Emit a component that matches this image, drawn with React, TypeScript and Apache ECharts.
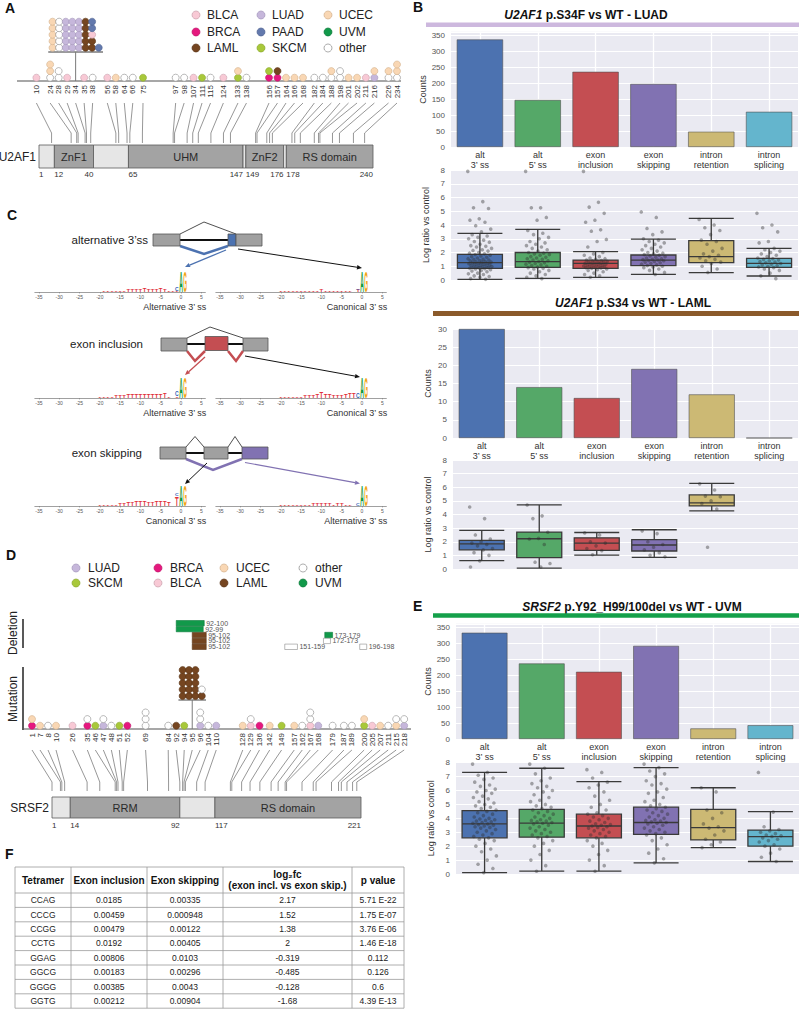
import React, { useEffect, useRef } from "react";
import * as echarts from "echarts";

const FONT = "'Liberation Sans', Arial, Helvetica, sans-serif";

/* ===================== DATA ===================== */
// Panel A – U2AF1
const u2af1Length = 240;
const u2af1Domains: [number, number, string][] = [
  [1, 12, ""], [12, 40, "ZnF1"], [40, 65, ""], [65, 147, "UHM"],
  [147, 149, ""], [149, 176, "ZnF2"], [176, 178, ""], [178, 240, "RS domain"],
];
const u2af1Residues = [10, 24, 28, 29, 34, 35, 38, 56, 58, 64, 66, 75, 97, 98, 107, 111, 115, 124, 133, 138, 156, 157, 164, 166, 168, 182, 184, 188, 198, 201, 202, 211, 216, 226, 234];
const u2af1Stacks: string[][] = [
  ["BLCA"], ["other", "UCEC", "UCEC"], ["other", "other"], ["BLCA"], [], ["BLCA"], ["other"],
  ["BLCA"], ["UCEC"], ["other"], ["other"], ["SKCM"],
  ["other"], ["other"], ["BLCA"], ["SKCM"], ["other"], ["BLCA"],
  ["SKCM", "UCEC"], ["other"],
  ["BRCA", "SKCM"], ["BRCA", "LAML"],
  ["UCEC"], ["UCEC"], ["UCEC"], ["other"], ["other"], ["other", "UCEC"], ["other", "other"], ["UCEC"], ["UCEC"], ["BLCA"], ["LUAD", "UCEC"], ["other", "UCEC"], ["other", "UCEC", "UCEC"],
];
const u2af1Hotspot = 34;
const u2af1HotspotCases: [string, number][] = [["UCEC", 5], ["other", 5], ["LUAD", 15], ["LAML", 7], ["BLCA", 1], ["PAAD", 3]];

// Panel D – SRSF2
const srsf2Length = 221;
const srsf2Domains: [number, number, string][] = [[1, 14, ""], [14, 92, "RRM"], [92, 117, ""], [117, 221, "RS domain"]];
const srsf2Residues = [1, 7, 8, 10, 26, 35, 46, 47, 48, 51, 52, 69, 84, 92, 94, 95, 96, 104, 110, 128, 129, 136, 142, 149, 157, 162, 167, 168, 179, 187, 189, 200, 205, 207, 211, 215, 218];
const srsf2Stacks: string[][] = [
  ["BRCA", "UCEC"], ["UCEC"], ["other"], ["UCEC"], ["BLCA"], ["BRCA", "other"], ["SKCM"], ["LUAD", "other"], ["other"], ["SKCM"], ["BRCA"],
  ["other", "other", "other"], ["other"], ["LAML"], ["SKCM"], [], ["LUAD", "other", "other"], ["other"], ["LUAD"],
  ["UCEC"], ["BLCA", "other"], ["BRCA"], ["UCEC"], ["SKCM"], ["UCEC"], ["other"], ["BLCA", "other", "other"], ["LUAD"],
  ["other"], ["other"], ["other"], ["SKCM", "UCEC"], ["BLCA"], ["UCEC"], ["other"], ["UCEC", "other"], ["LUAD", "other"],
];
const srsf2Hotspot = 95;
const srsf2HotspotCases: [string, number][] = [["LAML", 16], ["other", 1]];
const srsf2Deletions: [number, number, string][] = [
  [95, 102, "LAML"], [95, 102, "LAML"], [95, 102, "LAML"], [151, 159, "other"], [172, 173, "other"],
  [173, 179, "UVM"], [92, 99, "UVM"], [92, 100, "UVM"], [196, 198, "other"],
];

// Panels B / E – splicing events
const spliceEvents = ["alt\n3\u2019 ss", "alt\n5\u2019 ss", "exon\ninclusion", "exon\nskipping", "intron\nretention", "intron\nsplicing"];
const luadCounts = [336, 147, 235, 197, 48, 110];
const lamlCounts = [30, 14, 11, 19, 12, 0];
const uvmCounts = [332, 236, 210, 291, 33, 43];

const luadBoxes = [[0.05, 0.85, 1.26, 1.87, 3.39], [0.12, 0.92, 1.33, 2.0, 3.68], [0.19, 0.85, 1.21, 1.45, 2.06], [0.41, 1.04, 1.45, 1.82, 2.98], [0.53, 1.26, 1.7, 2.86, 4.48], [0.29, 0.92, 1.21, 1.58, 2.3]];
const lamlBoxes = [[0.61, 1.41, 1.85, 2.1, 2.83], [0.07, 0.83, 2.22, 2.71, 4.7], [1.02, 1.37, 1.9, 2.29, 2.68], [0.85, 1.32, 1.76, 2.15, 2.88], [4.27, 4.63, 4.85, 5.44, 6.29]];
const uvmBoxes = [[0.1, 2.6, 3.6, 4.55, 7.3], [0.2, 2.65, 3.65, 4.65, 7.6], [0.2, 2.6, 3.45, 4.3, 6.64], [0.8, 2.85, 3.7, 4.8, 7.65], [1.9, 2.45, 3.33, 4.65, 6.2], [0.9, 2.0, 2.68, 3.16, 4.48]];

const luadPoints: number[][] = [
  [7.9, 5.7, 5.25, 5.2, 4.45, 4.35, 4.2, 3.95, 3.7, 3.5, 3.3, 3.2, 3.1, 3.0, 2.9, 2.8, 2.75, 2.6, 2.5, 2.45, 2.4, 2.3, 2.2, 2.15, 2.1, 2.0, 1.95, 1.9, 1.85, 1.8, 1.75, 1.7, 1.65, 1.6, 1.55, 1.5, 1.48, 1.45, 1.42, 1.4, 1.35, 1.32, 1.3, 1.28, 1.25, 1.22, 1.2, 1.18, 1.15, 1.12, 1.1, 1.08, 1.05, 1.02, 1.0, 0.98, 0.95, 0.92, 0.9, 0.88, 0.85, 0.82, 0.8, 0.75, 0.7, 0.65, 0.6, 0.5, 0.45, 0.4, 0.3, 0.25, 0.2, 0.1, 0.05],
  [7.9, 5.25, 5.25, 4.55, 4.35, 3.6, 3.4, 3.3, 3.1, 3.0, 2.8, 2.7, 2.6, 2.5, 2.4, 2.3, 2.2, 2.1, 2.0, 1.95, 1.9, 1.85, 1.8, 1.7, 1.65, 1.6, 1.55, 1.5, 1.45, 1.4, 1.35, 1.3, 1.25, 1.2, 1.15, 1.1, 1.05, 1.0, 0.95, 0.9, 0.85, 0.8, 0.7, 0.6, 0.5, 0.4, 0.3, 0.2, 0.1],
  [7.9, 5.65, 5.3, 4.85, 4.35, 4.2, 3.65, 3.55, 2.95, 2.8, 2.4, 2.0, 1.9, 1.8, 1.7, 1.6, 1.55, 1.5, 1.45, 1.42, 1.4, 1.35, 1.32, 1.3, 1.28, 1.25, 1.22, 1.2, 1.18, 1.15, 1.12, 1.1, 1.08, 1.05, 1.02, 1.0, 0.98, 0.95, 0.92, 0.9, 0.88, 0.85, 0.8, 0.75, 0.7, 0.6, 0.5, 0.4, 0.3, 0.2],
  [4.95, 4.55, 3.75, 3.5, 3.3, 3.0, 2.9, 2.8, 2.7, 2.6, 2.5, 2.4, 2.3, 2.2, 2.1, 2.0, 1.95, 1.9, 1.85, 1.8, 1.75, 1.7, 1.65, 1.6, 1.55, 1.5, 1.48, 1.45, 1.42, 1.4, 1.35, 1.3, 1.25, 1.2, 1.15, 1.1, 1.05, 1.0, 0.95, 0.9, 0.8, 0.7, 0.55, 0.4],
  [4.4, 4.0, 3.8, 3.6, 3.3, 2.9, 2.8, 2.6, 2.3, 2.1, 1.9, 1.8, 1.7, 1.6, 1.5, 1.4, 1.3, 1.2, 1.0, 0.8, 0.55],
  [4.85, 4.0, 3.8, 3.5, 2.8, 2.7, 2.3, 2.2, 2.1, 2.0, 1.9, 1.8, 1.7, 1.6, 1.55, 1.5, 1.45, 1.4, 1.35, 1.3, 1.25, 1.2, 1.15, 1.1, 1.05, 1.0, 0.95, 0.9, 0.8, 0.7, 0.5, 0.3, 0.1],
];
const lamlPoints: number[][] = [
  [4.55, 3.7, 2.5, 2.2, 2.0, 1.9, 1.8, 1.7, 1.5, 1.4, 1.2, 1.0, 0.6, 0.15],
  [4.7, 3.9, 3.7, 2.7, 2.25, 2.2, 1.8, 0.5, 0.4, 0.15],
  [2.65, 2.5, 2.0, 1.9, 1.7, 1.5, 1.35, 1.05],
  [2.8, 2.6, 2.0, 1.8, 1.6, 1.4, 1.2, 1.0, 0.9],
  [6.25, 5.8, 5.35, 5.3, 5.0, 4.8, 4.4, 1.6],
  [],
];
const uvmPoints: number[][] = [
  [7.9, 7.3, 7.1, 6.9, 6.8, 6.6, 6.4, 6.3, 6.1, 6.0, 5.9, 5.8, 5.6, 5.5, 5.4, 5.2, 5.1, 5.0, 4.9, 4.8, 4.7, 4.6, 4.5, 4.4, 4.3, 4.2, 4.1, 4.0, 3.95, 3.9, 3.85, 3.8, 3.75, 3.7, 3.65, 3.6, 3.55, 3.5, 3.45, 3.4, 3.35, 3.3, 3.2, 3.1, 3.0, 2.9, 2.8, 2.7, 2.6, 2.5, 2.4, 2.2, 2.0, 1.8, 1.6, 1.3, 1.0, 0.7, 0.4, 0.1],
  [7.9, 7.6, 7.2, 6.9, 6.7, 6.5, 6.3, 6.2, 6.0, 5.9, 5.7, 5.5, 5.3, 5.2, 5.0, 4.9, 4.8, 4.7, 4.6, 4.5, 4.4, 4.3, 4.2, 4.1, 4.0, 3.9, 3.85, 3.8, 3.75, 3.7, 3.65, 3.6, 3.5, 3.4, 3.3, 3.2, 3.1, 3.0, 2.9, 2.8, 2.7, 2.6, 2.4, 2.2, 2.0, 1.7, 1.4, 1.0, 0.6, 0.2],
  [7.5, 7.3, 6.9, 6.6, 6.4, 6.2, 5.9, 5.6, 5.3, 5.0, 4.8, 4.6, 4.4, 4.3, 4.2, 4.1, 4.0, 3.9, 3.8, 3.7, 3.6, 3.55, 3.5, 3.45, 3.4, 3.35, 3.3, 3.2, 3.1, 3.0, 2.9, 2.8, 2.7, 2.6, 2.4, 2.2, 2.0, 1.7, 1.4, 1.0, 0.6, 0.2],
  [7.9, 7.65, 7.4, 7.2, 7.0, 6.7, 6.5, 6.4, 6.1, 5.9, 5.8, 5.5, 5.3, 5.2, 5.0, 4.9, 4.8, 4.7, 4.6, 4.5, 4.4, 4.3, 4.2, 4.1, 4.0, 3.9, 3.85, 3.8, 3.75, 3.7, 3.65, 3.6, 3.5, 3.4, 3.3, 3.2, 3.1, 3.0, 2.9, 2.8, 2.6, 2.4, 2.1, 1.8, 1.5, 1.1, 0.8],
  [6.2, 5.9, 4.6, 4.4, 4.0, 3.6, 3.4, 3.3, 3.1, 2.8, 2.5, 2.3, 2.1, 1.9],
  [7.3, 4.45, 3.4, 3.2, 3.1, 3.0, 2.9, 2.8, 2.75, 2.7, 2.6, 2.5, 2.4, 2.3, 2.1, 2.0, 1.8, 1.5, 1.2, 0.9],
];

// Panel C – sequence logos: [position, base, bits]
const logoTicks = [-35, -30, -25, -20, -15, -10, -5, 0, 5];
const logoAlt3Alternative: [number, string, number][] = [
  [-19, "T", 0.06], [-18, "T", 0.07], [-17, "T", 0.09], [-16, "T", 0.1], [-15, "T", 0.14], [-14, "T", 0.15], [-13, "T", 0.17], [-12, "T", 0.2],
  [-11, "T", 0.22], [-10, "T", 0.24], [-9, "T", 0.28], [-8, "T", 0.25], [-7, "T", 0.18], [-6, "T", 0.16], [-5, "T", 0.28], [-4, "T", 0.22],
  [-3, "T", 0.12], [-2, "T", 0.08], [-1, "T", 0.1], [-1, "C", 0.35], [0, "A", 1.75], [1, "G", 1.75],
];
const logoAlt3Canonical: [number, string, number][] = [
  [-20, "T", 0.05], [-19, "T", 0.06], [-18, "T", 0.07], [-17, "T", 0.08], [-16, "T", 0.1], [-15, "T", 0.11], [-14, "T", 0.12], [-13, "T", 0.13],
  [-12, "T", 0.14], [-11, "T", 0.15], [-10, "T", 0.16], [-9, "T", 0.15], [-8, "T", 0.14], [-7, "T", 0.13], [-6, "T", 0.12], [-5, "T", 0.14],
  [-4, "T", 0.12], [-3, "T", 0.1], [-1, "T", 0.2], [-1, "C", 0.15], [0, "A", 1.8], [1, "G", 1.8],
];
const logoInclAlternative: [number, string, number][] = [
  [-20, "T", 0.06], [-19, "T", 0.08], [-18, "T", 0.1], [-17, "T", 0.14], [-16, "T", 0.18], [-15, "T", 0.22], [-14, "T", 0.26], [-13, "T", 0.28],
  [-12, "T", 0.3], [-11, "T", 0.3], [-10, "T", 0.32], [-9, "T", 0.3], [-8, "T", 0.3], [-7, "T", 0.28], [-6, "T", 0.3], [-5, "T", 0.32],
  [-4, "T", 0.45], [-3, "T", 0.15], [-1, "T", 0.15], [-1, "C", 0.4], [0, "A", 1.8], [1, "G", 1.8],
];
const logoInclCanonical: [number, string, number][] = [
  [-20, "T", 0.05], [-19, "T", 0.06], [-18, "T", 0.08], [-17, "T", 0.1], [-16, "T", 0.12], [-15, "T", 0.14], [-14, "T", 0.16], [-13, "T", 0.2],
  [-12, "T", 0.25], [-11, "T", 0.3], [-10, "T", 0.55], [-9, "T", 0.3], [-8, "T", 0.28], [-7, "T", 0.25], [-6, "T", 0.22], [-5, "T", 0.25],
  [-4, "T", 0.3], [-3, "T", 0.45], [-2, "T", 0.45], [-1, "C", 0.4], [0, "A", 1.8], [1, "G", 1.8],
];
const logoSkipCanonical: [number, string, number][] = [
  [-20, "T", 0.06], [-19, "T", 0.08], [-18, "T", 0.1], [-17, "T", 0.12], [-16, "T", 0.15], [-15, "T", 0.2], [-14, "T", 0.25], [-13, "T", 0.3],
  [-12, "T", 0.35], [-11, "T", 0.4], [-10, "T", 0.45], [-9, "T", 0.4], [-8, "T", 0.35], [-7, "T", 0.35], [-6, "T", 0.4], [-5, "T", 0.45],
  [-4, "T", 0.4], [-3, "T", 0.3], [-1, "T", 0.8], [-1, "C", 0.2], [0, "A", 1.8], [1, "G", 1.8],
];
const logoSkipAlternative: [number, string, number][] = [
  [-20, "T", 0.05], [-19, "T", 0.06], [-18, "T", 0.07], [-17, "T", 0.08], [-16, "T", 0.1], [-15, "T", 0.12], [-14, "T", 0.14], [-13, "T", 0.15],
  [-12, "T", 0.16], [-11, "T", 0.18], [-10, "T", 0.2], [-9, "T", 0.18], [-8, "T", 0.16], [-7, "T", 0.15], [-6, "T", 0.16], [-5, "T", 0.18],
  [-4, "T", 0.15], [-3, "T", 0.12], [-1, "C", 0.25], [0, "A", 1.8], [1, "G", 1.8],
];

// Panel F – tetramer table
const tableHeader = ["Tetramer", "Exon inclusion", "Exon skipping", "log\u2082fc\n(exon incl. vs exon skip.)", "p value"];
const tetramers = ["CCAG", "CCCG", "CCGG", "CCTG", "GGAG", "GGCG", "GGGG", "GGTG"];
const exonInclusion = ["0.0185", "0.00459", "0.00479", "0.0192", "0.00806", "0.00183", "0.00385", "0.00212"];
const exonSkipping = ["0.00335", "0.000948", "0.00122", "0.00405", "0.0103", "0.00296", "0.0043", "0.00904"];
const log2fc = ["2.17", "1.52", "1.38", "2", "-0.319", "-0.485", "-0.128", "-1.68"];
const pValues = ["5.71 E-22", "1.75 E-07", "3.76 E-06", "1.46 E-18", "0.112", "0.126", "0.6", "4.39 E-13"];

/* ===================== STYLE ===================== */
const cancerColor: Record<string, string> = {
  BLCA: "#f8c9d5", BRCA: "#e5187e", LAML: "#754520", LUAD: "#c6b7db", PAAD: "#6379ad",
  SKCM: "#a8c83a", UCEC: "#f9d7b4", UVM: "#11994a", other: "#ffffff",
};
const cancerStroke: Record<string, string> = {
  BLCA: "#c9a0ac", BRCA: "#c0156a", LAML: "#5a3518", LUAD: "#a497bb", PAAD: "#4f6392",
  SKCM: "#8aa82c", UCEC: "#d2b08c", UVM: "#0c7a3a", other: "#8a8a8a",
};
const eventColors = ["#4c72b0", "#55a868", "#c44e52", "#8172b2", "#ccb974", "#64b5cd"];
const letterColor: Record<string, string> = { A: "#169a3f", C: "#2f5fb8", G: "#f2a516", T: "#e0303a" };
const glyphW: Record<string, number> = { A: 0.722, C: 0.722, G: 0.778, T: 0.611 };

const trackCfgA = {
  left: 0, top: 0, width: 405, height: 190, res1Px: 39, resNPx: 373, trackA: 20, trackB: 1.64, gap: 8.5, lo: 28, hi: 397,
  baseline: 81, baseX0: 17, baseX1: 401, c0: 3.3, step: 6.6, r: 3.5, labelTop: 85, connTop: 103, connMid: 133, connBot: 143,
  barTop: 145, barBottom: 168, numY: 174.5, hotBottom: 47.7, hotUnder: 52, hotRows: 5, hotRow: 6.5, hotCol: 6.6,
};
const trackCfgD = {
  left: 0, top: 530, width: 420, height: 310, res1Px: 52, resNPx: 361, trackA: 28.3, trackB: 1.7, gap: 8, lo: 32, hi: 408,
  baseline: 729, baseX0: 24, baseX1: 411, c0: 3.3, step: 6.6, r: 3.5, labelTop: 733, connTop: 750, connMid: 782, connBot: 791,
  barTop: 797, barBottom: 818, numY: 825, hotBottom: 696, hotUnder: 700, hotRows: 5, hotRow: 6.5, hotCol: 6.4,
  delBottom: 649.5, delLane: 5.9, delBox: 5.4, delMinW: 7,
};

/* ===================== HELPERS ===================== */
function spread(ideal: number[], gap: number, lo: number, hi: number): number[] {
  const cl: any[] = [];
  const place = (c: any) => { c.start = Math.min(Math.max(c.sum / c.n, lo), hi - (c.n - 1) * gap); };
  ideal.forEach((v) => {
    const c: any = { n: 1, sum: v, start: v };
    place(c);
    cl.push(c);
    while (cl.length > 1) {
      const b = cl[cl.length - 1], a = cl[cl.length - 2];
      if (a.start + a.n * gap <= b.start + 1e-9) break;
      a.sum += b.sum - b.n * a.n * gap;
      a.n += b.n;
      place(a);
      cl.pop();
    }
  });
  const out: number[] = [];
  cl.forEach((c) => { for (let k = 0; k < c.n; k++) out.push(c.start + k * gap); });
  return out;
}

function txt(x: number, y: number, text: string, size: number, extra: any = {}, styleExtra: any = {}) {
  return {
    type: "text", x, y, ...extra,
    style: { text, fontSize: size, fontFamily: FONT, fill: "#222", align: "left", verticalAlign: "middle", ...styleExtra },
  };
}

function arrow(x1: number, y1: number, x2: number, y2: number, color: string, lw: number) {
  const ang = Math.atan2(y2 - y1, x2 - x1);
  const L = 5, W = 2.2;
  const bx = x2 - L * Math.cos(ang), by = y2 - L * Math.sin(ang);
  const px = -Math.sin(ang) * W, py = Math.cos(ang) * W;
  return [
    { type: "line", shape: { x1, y1, x2: bx, y2: by }, style: { stroke: color, lineWidth: lw } },
    { type: "polygon", shape: { points: [[x2, y2], [bx + px, by + py], [bx - px, by - py]] }, style: { fill: color } },
  ];
}

function addTrack(o: any, cfg: any, d: any) {
  const k = (cfg.resNPx - cfg.res1Px) / (d.length - 1);
  const min = 1 - (cfg.res1Px - cfg.left) / k;
  const max = min + cfg.width / k;
  const toU = (px: number) => min + (px - cfg.left) / k;
  const dispPx = spread(d.residues.map((r: number) => cfg.trackA + cfg.trackB * r), cfg.gap, cfg.lo, cfg.hi);

  const gi = o.grid.length;
  o.grid.push({ left: cfg.left, top: cfg.top, width: cfg.width, height: cfg.height, show: false, containLabel: false, outerBoundsMode: "none" });
  const xi = o.xAxis.length;
  o.xAxis.push({ gridIndex: gi, type: "value", min, max, show: false });
  const yi = o.yAxis.length;
  o.yAxis.push({ gridIndex: gi, type: "value", min: cfg.top, max: cfg.top + cfg.height, inverse: true, show: false });

  o.graphic.elements.push({ type: "line", shape: { x1: cfg.baseX0, y1: cfg.baseline, x2: cfg.baseX1, y2: cfg.baseline }, style: { stroke: "#8a8a8a", lineWidth: 1.3 }, z: 0 });

  o.series.push({
    type: "custom", xAxisIndex: xi, yAxisIndex: yi, silent: true, z: 2,
    data: d.domains.map((dm: any) => [dm[0], dm[1]]),
    renderItem: (params: any, api: any) => {
      const dm = d.domains[params.dataIndex];
      const x0 = api.coord([api.value(0), cfg.barTop])[0];
      const x1 = api.coord([api.value(1), cfg.barTop])[0];
      const yT = api.coord([min, cfg.barTop])[1], yB = api.coord([min, cfg.barBottom])[1];
      const yN = api.coord([min, cfg.numY])[1];
      const num = (v: number, x: number, align: string) => ({ type: "text", x, y: yN, style: { text: String(v), fontSize: 8, fontFamily: FONT, fill: "#333", align, verticalAlign: "middle" } });
      const ch: any[] = [{ type: "rect", shape: { x: x0, y: yT, width: x1 - x0, height: yB - yT }, style: { fill: dm[2] ? "#a3a3a3" : "#e6e6e6", stroke: "#5a5a5a", lineWidth: 0.8 } }];
      if (dm[2]) {
        ch.push({ type: "text", x: (x0 + x1) / 2, y: (yT + yB) / 2, style: { text: dm[2], fontSize: 11, fontFamily: FONT, fill: "#2a2a2a", align: "center", verticalAlign: "middle" } });
        ch.push(num(dm[0], x0, "left"), num(dm[1], x1, "right"));
      }
      if (params.dataIndex === 0) {
        ch.push(num(dm[0], x0, "left"));
        ch.push({ type: "text", x: x0 - 3, y: (yT + yB) / 2, style: { text: d.name, fontSize: 12, fontFamily: FONT, fill: "#222", align: "right", verticalAlign: "middle" } });
      }
      return { type: "group", children: ch };
    },
  });

  o.series.push({
    type: "custom", xAxisIndex: xi, yAxisIndex: yi, silent: true, z: 3,
    data: d.residues.map((r: number, i: number) => [r, toU(dispPx[i])]),
    renderItem: (params: any, api: any) => {
      const i = params.dataIndex;
      const xr = api.coord([api.value(0), cfg.baseline])[0];
      const xd = api.coord([api.value(1), cfg.baseline])[0];
      const Y = (v: number) => api.coord([min, v])[1];
      const yb = Y(cfg.baseline);
      const ch: any[] = [];
      ch.push({ type: "polyline", shape: { points: [[xd, Y(cfg.connTop)], [xr, Y(cfg.connMid)], [xr, Y(cfg.connBot)]] }, style: { stroke: "#6a6a6a", lineWidth: 0.7, fill: "none" } });
      ch.push({ type: "text", x: xd, y: Y(cfg.labelTop), rotation: Math.PI / 2, style: { text: String(d.residues[i]), fontSize: 8, fontFamily: FONT, fill: "#333", align: "right", verticalAlign: "middle" } });
      const circ = (cx: number, cy: number, t: string) => ({ type: "circle", shape: { cx, cy, r: cfg.r }, style: { fill: cancerColor[t], stroke: cancerStroke[t], lineWidth: 0.6 } });
      if (d.residues[i] === d.hotspot) {
        const cells: string[] = [];
        d.hotspotCases.forEach(([t, n]: [string, number]) => { for (let j = 0; j < n; j++) cells.push(t); });
        const ncol = Math.ceil(cells.length / cfg.hotRows);
        const yu = Y(cfg.hotUnder);
        const half = (ncol / 2) * cfg.hotCol + 1;
        ch.push({ type: "line", shape: { x1: xd, y1: yu, x2: xd, y2: yb }, style: { stroke: "#7a7a7a", lineWidth: 1 } });
        ch.push({ type: "line", shape: { x1: xd - half, y1: yu, x2: xd + half, y2: yu }, style: { stroke: "#7a7a7a", lineWidth: 1.4 } });
        cells.forEach((t, j) => {
          const c = Math.floor(j / cfg.hotRows), rr = j % cfg.hotRows;
          ch.push(circ(xd + (c - (ncol - 1) / 2) * cfg.hotCol, Y(cfg.hotBottom) - rr * cfg.hotRow, t));
        });
      }
      d.stacks[i].forEach((t: string, kk: number) => ch.push(circ(xd, yb - cfg.c0 - kk * cfg.step, t)));
      return { type: "group", children: ch };
    },
  });

  if (d.deletions) {
    const interp = (res: number) => {
      const rs = d.residues;
      if (res <= rs[0]) return dispPx[0] + (res - rs[0]) * cfg.trackB;
      for (let j = 0; j < rs.length - 1; j++) {
        if (res >= rs[j] && res <= rs[j + 1]) return dispPx[j] + (dispPx[j + 1] - dispPx[j]) * (res - rs[j]) / (rs[j + 1] - rs[j]);
      }
      return dispPx[rs.length - 1] + (res - rs[rs.length - 1]) * cfg.trackB;
    };
    const lanes: number[][][] = [];
    const delData = d.deletions.map((dl: [number, number, string]) => {
      const x0 = interp(dl[0]);
      const x1 = Math.max(interp(dl[1]), x0 + cfg.delMinW);
      const lw = `${dl[0]}-${dl[1]}`.length * 3.9 + 3;
      let L = 0;
      while (lanes[L] && lanes[L].some(([a, b]) => x0 < b && a < x1 + lw)) L++;
      (lanes[L] = lanes[L] || []).push([x0, x1 + lw]);
      return [toU(x0), toU(x1), L];
    });
    o.series.push({
      type: "custom", xAxisIndex: xi, yAxisIndex: yi, silent: true, z: 3,
      data: delData,
      renderItem: (params: any, api: any) => {
        const dl = d.deletions[params.dataIndex];
        const x0 = api.coord([api.value(0), cfg.delBottom])[0];
        const x1 = api.coord([api.value(1), cfg.delBottom])[0];
        const yB = api.coord([min, cfg.delBottom - api.value(2) * cfg.delLane])[1];
        const yT = yB - cfg.delBox;
        return {
          type: "group", children: [
            { type: "rect", shape: { x: x0, y: yT, width: x1 - x0, height: yB - yT }, style: { fill: cancerColor[dl[2]], stroke: dl[2] === "other" ? "#8a8a8a" : cancerStroke[dl[2]], lineWidth: 0.6 } },
            { type: "text", x: x1 + 2, y: (yT + yB) / 2, style: { text: `${dl[0]}-${dl[1]}`, fontSize: 7, fontFamily: FONT, fill: "#555", align: "left", verticalAlign: "middle" } },
          ],
        };
      },
    });
  }
}

function addBarPanel(o: any, p: any) {
  const gi = o.grid.length;
  o.grid.push({ left: p.left, top: p.top, width: p.width, height: p.height, show: true, backgroundColor: "#eaeaf2", borderWidth: 0, containLabel: false, outerBoundsMode: "none" });
  const xi = o.xAxis.length;
  o.xAxis.push({
    gridIndex: gi, type: "category", data: spliceEvents,
    axisLine: { show: false }, axisTick: { show: false },
    axisLabel: { show: !p.box, interval: 0, fontSize: 9, color: "#333", lineHeight: 10, margin: 3, fontFamily: FONT },
    splitLine: { show: false },
  });
  const yi = o.yAxis.length;
  o.yAxis.push({
    gridIndex: gi, type: "value", min: 0, max: p.max, interval: p.interval,
    name: p.name, nameLocation: "middle", nameGap: 21, nameTextStyle: { fontSize: 9, color: "#333", fontFamily: FONT },
    axisLine: { show: false }, axisTick: { show: false },
    axisLabel: { fontSize: 8, color: "#555", margin: 6, fontFamily: FONT, showMaxLabel: p.max % p.interval === 0 },
    splitLine: { show: true, lineStyle: { color: "#ffffff", width: 1.2 } },
  });
  if (!p.box) {
    // vertical white gridlines at the category centres, drawn beneath the bars
    o.series.push({
      type: "line", xAxisIndex: xi, yAxisIndex: yi, data: [], silent: true, z: 1, symbol: "none",
      markLine: { silent: true, z: 1, symbol: "none", label: { show: false }, lineStyle: { color: "#ffffff", width: 1.3, type: "solid" },
        data: spliceEvents.map((c) => ({ xAxis: c })) },
    });
    o.series.push({
      type: "bar", xAxisIndex: xi, yAxisIndex: yi, silent: true, barCategoryGap: "20%", z: 3,
      itemStyle: { borderColor: "#505050", borderWidth: 0.6 },
      data: p.values.map((v: number, i: number) => ({ value: v, itemStyle: { color: eventColors[i] } })),
    });
  } else {
    const jx = o.xAxis.length;
    o.xAxis.push({ gridIndex: gi, type: "value", min: -0.5, max: 5.5, show: false });
    o.series.push({
      type: "boxplot", xAxisIndex: xi, yAxisIndex: yi, silent: true, boxWidth: [45, 45],
      data: p.boxes.map((b: number[], i: number) => ({ value: b, itemStyle: { color: eventColors[i], borderColor: "#3a3a3a", borderWidth: 1.3 } })),
    });
    const pts: number[][] = [];
    p.points.forEach((vals: number[], c: number) => {
      vals.forEach((v, j) => pts.push([c + (((j * 0.6180339) % 1) - 0.5) * 0.42, v]));
    });
    o.series.push({
      type: "scatter", xAxisIndex: jx, yAxisIndex: yi, silent: true, z: 4, symbolSize: 3.6,
      itemStyle: { color: "rgba(45,45,45,0.5)" }, data: pts,
    });
  }
}

function addLogo(o: any, zeroPx: number, axisY: number, entries: [number, string, number][], label: string) {
  const ppu = 4.06;
  const gi = o.grid.length;
  o.grid.push({ left: zeroPx - 36 * ppu, top: axisY - 24, width: 42 * ppu, height: 24, show: false, containLabel: false, outerBoundsMode: "none" });
  const xi = o.xAxis.length;
  o.xAxis.push({
    gridIndex: gi, type: "value", min: -36, max: 6,
    axisLine: { show: true, onZero: false, lineStyle: { color: "#777", width: 0.7 } },
    axisTick: { show: true, length: 1.5, customValues: logoTicks, lineStyle: { color: "#777", width: 0.5 } },
    axisLabel: { show: true, fontSize: 5, color: "#555", margin: 2, customValues: logoTicks, fontFamily: FONT },
    splitLine: { show: false },
  });
  const yi = o.yAxis.length;
  o.yAxis.push({ gridIndex: gi, type: "value", min: 0, max: 2, show: false });
  const base: Record<number, number> = {};
  const data = entries.map(([p, l, h]) => { const b = base[p] || 0; base[p] = b + h; return [p, b, h, "ACGT".indexOf(l)]; });
  o.series.push({
    type: "custom", xAxisIndex: xi, yAxisIndex: yi, silent: true, data,
    renderItem: (params: any, api: any) => {
      const p = api.value(0), b = api.value(1), h = api.value(2);
      const L = "ACGT"[api.value(3)];
      const pb = api.coord([p, b]), pt = api.coord([p, b + h]);
      const hpx = Math.max(pb[1] - pt[1], 0.4);
      const wpx = api.size([0.9, 0])[0];
      return {
        type: "text", x: pb[0], y: (pb[1] + pt[1]) / 2, scaleX: wpx / (glyphW[L] * 10), scaleY: hpx / 7.16,
        style: { text: L, fontSize: 10, fontWeight: "bold", fontFamily: FONT, fill: letterColor[L], align: "center", verticalAlign: "middle" },
      };
    },
  });
  o.graphic.elements.push(txt(zeroPx + 6 * ppu + 1, axisY + 15, label, 9, {}, { align: "right", fill: "#333" }));
}

/* ===================== OPTION ===================== */
function buildOption() {
  const o: any = { animation: false, backgroundColor: "#ffffff", grid: [], xAxis: [], yAxis: [], series: [], graphic: { elements: [] } };
  const G = o.graphic.elements;

  [["A", 5, 8], ["B", 413, 7], ["C", 7, 215], ["D", 6, 555], ["E", 413, 606], ["F", 5, 854]].forEach(([t, x, y]: any) =>
    G.push(txt(x, y, t, 14, {}, { fontWeight: "bold", fill: "#111" })));

  // Panel A
  const legendA = [["BLCA", "BRCA", "LAML"], ["LUAD", "PAAD", "SKCM"], ["UCEC", "UVM", "other"]];
  const legAx = [196, 261, 328], legAy = [15, 32, 48];
  legendA.forEach((col, ci) => col.forEach((t, ri) => {
    G.push({ type: "circle", shape: { cx: legAx[ci], cy: legAy[ri], r: 4 }, style: { fill: cancerColor[t], stroke: cancerStroke[t], lineWidth: 0.7 } });
    G.push(txt(legAx[ci] + 11, legAy[ri], t, 12, {}, { fill: "#222" }));
  }));
  addTrack(o, trackCfgA, { length: u2af1Length, domains: u2af1Domains, residues: u2af1Residues, stacks: u2af1Stacks, hotspot: u2af1Hotspot, hotspotCases: u2af1HotspotCases, name: "U2AF1" });

  // Panel D
  const legendD = [["LUAD", "BRCA", "UCEC", "other"], ["SKCM", "BLCA", "LAML", "UVM"]];
  const legDx = [76, 158, 224, 303], legDy = [568, 583];
  legendD.forEach((row, ri) => row.forEach((t, ci) => {
    G.push({ type: "circle", shape: { cx: legDx[ci], cy: legDy[ri], r: 4 }, style: { fill: cancerColor[t], stroke: cancerStroke[t], lineWidth: 0.7 } });
    G.push(txt(legDx[ci] + 12, legDy[ri], t, 12, {}, { fill: "#222" }));
  }));
  G.push(txt(13, 633, "Deletion", 12, { rotation: Math.PI / 2 }, { align: "center", fill: "#222" }));
  G.push(txt(13, 699, "Mutation", 12, { rotation: Math.PI / 2 }, { align: "center", fill: "#222" }));
  G.push({ type: "line", shape: { x1: 23, y1: 619, x2: 23, y2: 648 }, style: { stroke: "#222", lineWidth: 1.5 } });
  G.push({ type: "line", shape: { x1: 23, y1: 667, x2: 23, y2: 730 }, style: { stroke: "#222", lineWidth: 1.5 } });
  addTrack(o, trackCfgD, { length: srsf2Length, domains: srsf2Domains, residues: srsf2Residues, stacks: srsf2Stacks, hotspot: srsf2Hotspot, hotspotCases: srsf2HotspotCases, name: "SRSF2", deletions: srsf2Deletions });

  // Panels B / E titles
  const titles: any[] = [
    ["U2AF1", " p.S34F vs WT - LUAD", 586, 15, "#cdb8de", 426, 22.5, 4.5],
    ["U2AF1", " p.S34 vs WT - LAML", 633, 303, "#8b5a2b", 433, 311, 5],
    ["SRSF2", " p.Y92_H99/100del vs WT - UVM", 632, 607, "#14a04a", 433, 613.3, 4.5],
  ];
  titles.forEach(([gene, rest, x, y, col, bx, by, bh]) => {
    G.push({
      type: "text", x, y,
      style: { text: `{i|${gene}}${rest}`, fontSize: 12, fontWeight: "bold", fontFamily: FONT, fill: "#111", align: "center", verticalAlign: "middle",
        rich: { i: { fontStyle: "italic", fontWeight: "bold", fontSize: 12, fontFamily: FONT, fill: "#111" } } },
    });
    G.push({ type: "rect", shape: { x: bx, y: by, width: 799 - bx, height: bh }, style: { fill: col } });
  });

  addBarPanel(o, { left: 451, top: 31.8, width: 347, height: 115.2, max: 360, interval: 50, name: "Counts", values: luadCounts });
  addBarPanel(o, { left: 451, top: 170, width: 347, height: 110, max: 8, interval: 1, name: "Log ratio vs control", box: true, boxes: luadBoxes, points: luadPoints });
  addBarPanel(o, { left: 453, top: 329, width: 345, height: 109, max: 30, interval: 5, name: "Counts", values: lamlCounts });
  addBarPanel(o, { left: 453, top: 460, width: 345, height: 109, max: 8, interval: 1, name: "Log ratio vs control", box: true, boxes: lamlBoxes, points: lamlPoints });
  addBarPanel(o, { left: 456, top: 623.8, width: 343, height: 115.2, max: 360, interval: 50, name: "Counts", values: uvmCounts });
  addBarPanel(o, { left: 456, top: 762.7, width: 343, height: 111.3, max: 8, interval: 1, name: "Log ratio vs control", box: true, boxes: uvmBoxes, points: uvmPoints });

  // Panel C – splicing diagrams
  const gray = "#a0a0a0";
  const exon = (x: number, y: number, w: number, h: number, fill: string) => ({ type: "rect", shape: { x, y, width: w, height: h }, style: { fill, stroke: "#555", lineWidth: 0.8 } });
  const pl = (points: number[][], stroke: string, lw: number) => ({ type: "polyline", shape: { points }, style: { stroke, lineWidth: lw, fill: "none" } });
  const blue = eventColors[0], red = eventColors[2], purple = eventColors[3];
  G.push(txt(148, 240, "alternative 3\u2019ss", 11.5, {}, { align: "right" }));
  G.push(pl([[180, 240], [228, 240]], "#111", 2.2));
  G.push(pl([[180, 234], [204, 222], [236, 234]], "#222", 0.8));
  G.push(pl([[180, 246], [204, 254], [228, 246]], blue, 2.5));
  G.push(exon(153, 234, 27, 12, gray), exon(228, 234, 8, 12, blue), exon(236, 234, 26, 12, gray));
  G.push(...arrow(226, 250, 185, 267, blue, 1.3), ...arrow(238, 249, 362, 268, "#111", 1));

  G.push(txt(143, 344, "exon inclusion", 11.5, {}, { align: "right" }));
  G.push(pl([[187, 344], [243, 344]], "#111", 2.2));
  G.push(pl([[187, 338], [210, 327], [243, 338]], "#222", 0.8));
  G.push(pl([[187, 351], [195, 361], [205, 351]], red, 2.5), pl([[228, 351], [236, 361], [243, 351]], red, 2.5));
  G.push(exon(161, 338, 26, 13, gray), exon(205, 336.5, 23, 14, red), exon(243, 338, 25, 13, gray));
  G.push(...arrow(205, 357, 185, 375, red, 1.3), ...arrow(245, 356, 360, 377, "#111", 1));

  G.push(txt(142, 453, "exon skipping", 11.5, {}, { align: "right" }));
  G.push(pl([[186, 453], [242, 453]], "#111", 2.2));
  G.push(pl([[186, 447], [195, 436.5], [204, 447]], "#222", 0.8), pl([[228, 447], [235, 436.5], [242, 447]], "#222", 0.8));
  G.push(pl([[186, 459], [213, 470], [242, 459]], purple, 2.5));
  G.push(exon(160, 447, 26, 12, gray), exon(204, 447, 24, 12, gray), exon(242, 447, 26, 12, purple));
  G.push(...arrow(207, 463, 185, 484, "#111", 1), ...arrow(245, 462.5, 360, 483.5, purple, 1.2));

  addLogo(o, 181, 292, logoAlt3Alternative, "Alternative 3\u2019 ss");
  addLogo(o, 362, 292, logoAlt3Canonical, "Canonical 3\u2019 ss");
  addLogo(o, 181, 398, logoInclAlternative, "Alternative 3\u2019 ss");
  addLogo(o, 362, 398, logoInclCanonical, "Canonical 3\u2019 ss");
  addLogo(o, 181, 506, logoSkipCanonical, "Canonical 3\u2019 ss");
  addLogo(o, 362, 506, logoSkipAlternative, "Alternative 3\u2019 ss");

  // Panel F – table
  const cols = [15, 71, 147, 223, 352, 404];
  const hTop = 867, hBot = 893, rowH = 14.4;
  const bottom = hBot + rowH * tetramers.length;
  const lineStyle = { stroke: "#9a9a9a", lineWidth: 0.8 };
  G.push({ type: "line", shape: { x1: cols[0], y1: hTop, x2: cols[5], y2: hTop }, style: lineStyle });
  for (let r = 0; r <= tetramers.length; r++) {
    const y = hBot + r * rowH;
    G.push({ type: "line", shape: { x1: cols[0], y1: y, x2: cols[5], y2: y }, style: lineStyle });
  }
  cols.forEach((x) => G.push({ type: "line", shape: { x1: x, y1: hTop, x2: x, y2: bottom }, style: lineStyle }));
  tableHeader.forEach((h, c) => {
    G.push({ type: "text", x: (cols[c] + cols[c + 1]) / 2, y: (hTop + hBot) / 2, style: { text: h, fontSize: 10, fontWeight: "bold", fontFamily: FONT, fill: "#111", align: "center", verticalAlign: "middle", lineHeight: 11 } });
  });
  const colsData = [tetramers, exonInclusion, exonSkipping, log2fc, pValues];
  colsData.forEach((arr, c) => arr.forEach((v, r) => {
    G.push({ type: "text", x: (cols[c] + cols[c + 1]) / 2, y: hBot + (r + 0.5) * rowH, style: { text: v, fontSize: 8.5, fontFamily: FONT, fill: "#222", align: "center", verticalAlign: "middle" } });
  }));

  return o;
}

export default function App() {
  const ref = useRef<HTMLDivElement>(null);
  useEffect(() => {
    if (!ref.current) return;
    const chart = echarts.init(ref.current, null, { renderer: "svg", width: 800, height: 1010 });
    chart.setOption(buildOption());
    return () => chart.dispose();
  }, []);
  return <div ref={ref} style={{ position: "absolute", left: 0, top: 0, width: 800, height: 1010, background: "#fff" }} />;
}
